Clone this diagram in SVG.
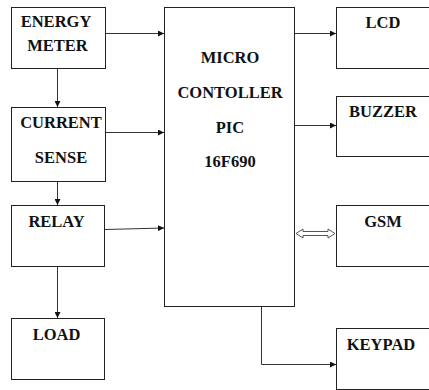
<svg xmlns="http://www.w3.org/2000/svg" width="429" height="390" viewBox="0 0 429 390">
<defs>
<marker id="ah" viewBox="0 0 10 10" refX="10" refY="5" markerWidth="6" markerHeight="6" markerUnits="userSpaceOnUse" orient="auto">
<path d="M0,0 L10,5 L0,10 z" fill="#111"/>
</marker>
</defs>
<style>
.box{fill:#fff;stroke:#222;stroke-width:1}
.t{font-family:'Liberation Serif','Times New Roman',serif;font-weight:bold;font-size:16.5px;fill:#111;text-anchor:middle}
.c{fill:none;stroke:#333;stroke-width:1;marker-end:url(#ah)}
</style>
<rect width="429" height="390" fill="#fff"/>
<g id="energy"><rect class="box" x="11.5" y="7.5" width="94" height="61"/><text class="t" x="56" y="27">ENERGY</text><text class="t" x="57.5" y="51">METER</text></g>
<g id="current"><rect class="box" x="11.5" y="107.5" width="94" height="74"/><text class="t" x="61" y="128">CURRENT</text><text class="t" x="61" y="163">SENSE</text></g>
<g id="relay"><rect class="box" x="11.5" y="205.5" width="93" height="61"/><text class="t" x="56.5" y="227">RELAY</text></g>
<g id="load"><rect class="box" x="11.5" y="318.5" width="93" height="61"/><text class="t" x="56.5" y="340">LOAD</text></g>
<g id="mc"><rect class="box" x="164.5" y="7.5" width="130" height="299"/><text class="t" x="230" y="63">MICRO</text><text class="t" x="230" y="98">CONTOLLER</text><text class="t" x="230" y="133">PIC</text><text class="t" x="230" y="167">16F690</text></g>
<g id="lcd"><rect class="box" x="336.5" y="7.5" width="100" height="61"/><text class="t" x="383" y="28">LCD</text></g>
<g id="buzzer"><rect class="box" x="336.5" y="96.5" width="100" height="60"/><text class="t" x="383" y="117">BUZZER</text></g>
<g id="gsm"><rect class="box" x="336.5" y="205.5" width="100" height="61"/><text class="t" x="383" y="227">GSM</text></g>
<g id="keypad"><rect class="box" x="336.5" y="328.5" width="100" height="61"/><text class="t" x="381" y="350">KEYPAD</text></g>
<g id="connectors">
<path class="c" d="M106,33.5 H164"/>
<path class="c" d="M106,132.5 H164"/>
<path class="c" d="M105,229.5 L164,228"/>
<path class="c" d="M57.5,69 V107"/>
<path class="c" d="M57.5,182 V205"/>
<path class="c" d="M57.5,267 V318"/>
<path class="c" d="M295,33.5 H336"/>
<path class="c" d="M295,125.5 H336"/>
<path class="c" d="M261.5,307 V364.5 H336"/>
<polygon points="296,233.5 303,229 303,231.5 328,231.5 328,229 335,233.5 328,238 328,235.5 303,235.5 303,238" fill="#fff" stroke="#555" stroke-width="1"/>
</g>
</svg>
